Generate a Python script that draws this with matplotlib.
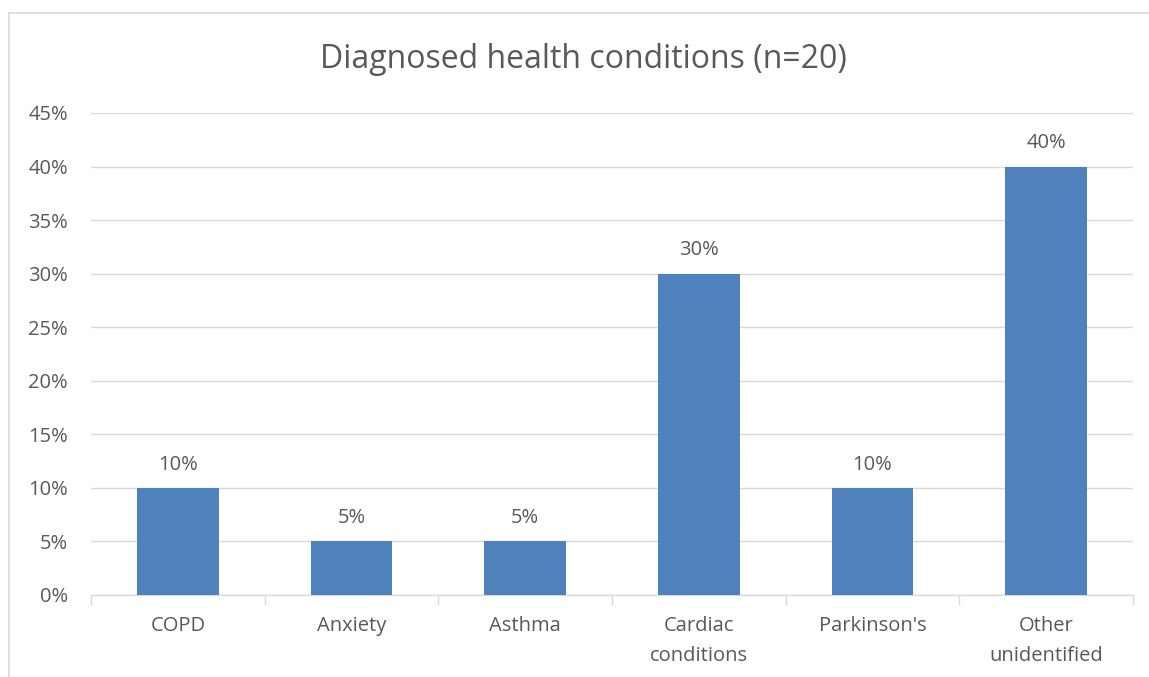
import matplotlib
matplotlib.use("Agg")
import matplotlib.pyplot as plt
from matplotlib.patches import Rectangle
from matplotlib.ticker import FuncFormatter, FixedLocator

categories = ["COPD", "Anxiety", "Asthma", "Cardiac\nconditions", "Parkinson's", "Other\nunidentified"]
values = [0.10, 0.05, 0.05, 0.30, 0.10, 0.40]
y_ticks = [0.0, 0.05, 0.10, 0.15, 0.20, 0.25, 0.30, 0.35, 0.40, 0.45]

BAR = "#4F81BD"
TXT = "#595959"
GRID = "#D9D9D9"

plt.rcParams["font.family"] = ["Open Sans", "DejaVu Sans"]

fig = plt.figure(figsize=(11.49, 6.77), dpi=100)
fig.patches.append(Rectangle((9 / 1149, -0.01), 1.02, 1 - 13 / 677 + 0.01,
                             transform=fig.transFigure, fill=False,
                             edgecolor=GRID, linewidth=1.2))

ax = fig.add_axes([91 / 1149, 82 / 677, 1042 / 1149, 482 / 677])
x = range(len(categories))
ax.bar(x, values, width=0.47, color=BAR, zorder=3)

for xi, v in zip(x, values):
    ax.annotate(f"{v * 100:.0f}%", (xi, v), xytext=(0, 9.5), textcoords="offset points",
                ha="center", va="bottom", fontsize=14.5, color=TXT)

ax.set_xlim(-0.5, len(categories) - 0.5)
ax.set_ylim(0, 0.45)
ax.set_yticks(y_ticks)
ax.yaxis.set_major_formatter(FuncFormatter(lambda v, _: f"{v * 100:.0f}%"))
ax.set_xticks(list(x))
ax.set_xticklabels(categories, linespacing=1.65)
ax.xaxis.set_minor_locator(FixedLocator([i - 0.5 for i in range(len(categories) + 1)]))
ax.tick_params(axis="x", which="major", length=0, pad=15, labelsize=14.5, labelcolor=TXT)
ax.tick_params(axis="x", which="minor", length=7, width=1, color=GRID)
ax.tick_params(axis="y", length=0, pad=16.5, labelsize=14.5, labelcolor=TXT)
ax.grid(axis="y", color=GRID, linewidth=1, zorder=0)
for s in ["top", "right", "left"]:
    ax.spines[s].set_visible(False)
ax.spines["bottom"].set_color(GRID)
ax.spines["bottom"].set_linewidth(1)

fig.text(583 / 1149, 1 - 60 / 677, "Diagnosed health conditions (n=20)",
         ha="center", va="center", fontsize=23, color=TXT)

fig.savefig("out.png", dpi=100)
